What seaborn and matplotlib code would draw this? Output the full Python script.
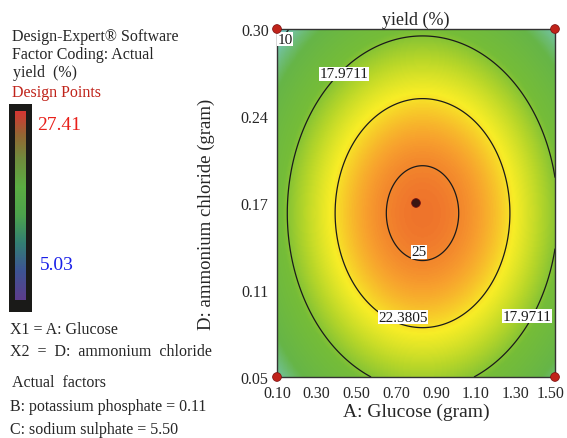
import numpy as np
import matplotlib
matplotlib.use("Agg")
import matplotlib.pyplot as plt
from matplotlib.colors import LinearSegmentedColormap, Normalize
from matplotlib.transforms import ScaledTranslation
import seaborn as sns
import pandas as pd

# factor ranges (actual units)
glucose_range = [0.10, 1.50]
ammonium_range = [0.05, 0.30]
x_ticks = [0.10, 0.30, 0.50, 0.70, 0.90, 1.10, 1.30, 1.50]
y_ticks = [0.05, 0.1125, 0.175, 0.2375, 0.30]
y_tick_labels = ["0.05", "0.11", "0.17", "0.24", "0.30"]

# fitted quadratic model in coded units
b0 = 25.50
b_A = 0.75
b_D = -0.85
b_AA = -8.0
b_DD = -7.3

contour_levels = [10, 17.9711, 22.3805, 25]
level_text = ["10", "17.9711", "22.3805", "25"]
y_min, y_max = 5.03, 27.41

# design points
design_A = [0.10, 1.50, 0.10, 1.50, 0.80]
design_D = [0.05, 0.05, 0.30, 0.30, 0.175]
design_kind = ["corner", "corner", "corner", "corner", "center"]

sns.set_style("white")
plt.rcParams["font.family"] = ["Liberation Serif", "DejaVu Serif"]

fig = plt.figure(figsize=(5.67, 4.39), dpi=100)
W, H = 567, 439


def fx(px):
    return px / W


def fy(py):
    return 1 - py / H


ax = fig.add_axes([fx(277), fy(378), fx(555) - fx(277), fy(30) - fy(378)])

# response surface
gx = np.linspace(glucose_range[0], glucose_range[1], 300)
gy = np.linspace(ammonium_range[0], ammonium_range[1], 300)
XX, YY = np.meshgrid(gx, gy)
U = (XX - 0.80) / 0.70
V = (YY - 0.175) / 0.125
Z = b0 + b_A * U + b_D * V + b_AA * U ** 2 + b_DD * V ** 2

surf_cmap = LinearSegmentedColormap.from_list("de", [
    (0.00, (0.30, 0.55, 0.90)),
    (0.14, (0.50, 0.78, 0.90)),
    (0.24, (0.45, 0.76, 0.62)),
    (0.36, (0.40, 0.71, 0.28)),
    (0.55, (0.46, 0.74, 0.22)),
    (0.66, (0.72, 0.84, 0.16)),
    (0.76, (0.97, 0.93, 0.15)),
    (0.86, (0.97, 0.62, 0.18)),
    (0.93, (0.93, 0.42, 0.17)),
    (1.00, (0.85, 0.20, 0.12)),
])
ax.imshow(Z, origin="lower", aspect="auto", cmap=surf_cmap,
          norm=Normalize(y_min, y_max),
          extent=[glucose_range[0], glucose_range[1], ammonium_range[0], ammonium_range[1]])
cs = ax.contour(XX, YY, Z, levels=contour_levels, colors="#1a1a1a", linewidths=0.9)

# label spots, in the order the contour labels are requested
label_pos = [(0.140, 0.2928), (0.437, 0.2677), (1.359, 0.0938), (0.7345, 0.0931), (0.815, 0.1398)]
labels = ax.clabel(cs, inline=False, fontsize=11, manual=label_pos,
                   fmt=dict(zip(contour_levels, level_text)))
for t, p in zip(labels, label_pos):
    t.set_rotation(0)
    t.set_position(p)
    t.set_bbox(dict(facecolor="white", edgecolor="none", pad=0.3))

pts = pd.DataFrame({"A": design_A, "D": design_D, "kind": design_kind})
sns.scatterplot(data=pts, x="A", y="D", hue="kind",
                palette={"corner": "#c0231a", "center": "#3a1612"},
                edgecolor="#7a1010", s=40, legend=False, clip_on=False, zorder=5, ax=ax)

ax.set_xlim(glucose_range)
ax.set_ylim(ammonium_range)
ax.set_xticks(x_ticks)
ax.set_xticklabels([f"{v:.2f}" for v in x_ticks])
ax.set_yticks(y_ticks)
ax.set_yticklabels(y_tick_labels)
ax.tick_params(axis="both", labelsize=11.5, length=4, direction="out", color="#555555", pad=2)
ax.tick_params(axis="y", color="#a07060")
# keep the last x label inside the canvas
last = ax.get_xticklabels()[-1]
last.set_transform(last.get_transform() + ScaledTranslation(-4 / 100, 0, fig.dpi_scale_trans))
for s in ax.spines.values():
    s.set_color("#333333")
    s.set_linewidth(1.0)
ax.set_xlabel("A: Glucose (gram)", fontsize=14, labelpad=1)
ax.set_ylabel("D: ammonium chloride (gram)", fontsize=13.5)
ax.yaxis.set_label_coords(-0.223, 0.47)
ax.set_title("yield (%)", fontsize=13, pad=4)

# left info panel
fs = 11.5
fig.text(fx(12), fy(37), "Design-Expert® Software", fontsize=fs, va="center")
fig.text(fx(12), fy(55), "Factor Coding: Actual", fontsize=fs, va="center")
fig.text(fx(13), fy(73), "yield  (%)", fontsize=fs, va="center")
fig.text(fx(12), fy(93), "Design Points", fontsize=fs, va="center", color="#c0231a")

cb_bg = fig.add_axes([fx(9), fy(313), fx(32) - fx(9), fy(105) - fy(313)])
cb_bg.set_facecolor("#1a1a18")
cb_bg.set_xticks([])
cb_bg.set_yticks([])
for s in cb_bg.spines.values():
    s.set_visible(False)
cb = fig.add_axes([fx(15), fy(301), fx(26) - fx(15), fy(112) - fy(301)])
bar_cmap = LinearSegmentedColormap.from_list("bar", [
    (0.00, (0.36, 0.24, 0.55)),
    (0.15, (0.24, 0.33, 0.58)),
    (0.30, (0.20, 0.50, 0.45)),
    (0.45, (0.30, 0.64, 0.30)),
    (0.60, (0.36, 0.68, 0.26)),
    (0.75, (0.44, 0.55, 0.24)),
    (0.88, (0.58, 0.40, 0.20)),
    (1.00, (0.83, 0.22, 0.20)),
])
cb.imshow(np.linspace(0, 1, 100).reshape(-1, 1), origin="lower", aspect="auto", cmap=bar_cmap)
cb.set_xticks([])
cb.set_yticks([])
for s in cb.spines.values():
    s.set_visible(False)
fig.text(fx(37), fy(125), f"{y_max:.2f}", fontsize=14, va="center", color="#e8201a")
fig.text(fx(40), fy(266), f"{y_min:.2f}", fontsize=14, va="center", color="#1a20e8")

fig.text(fx(10), fy(330), "X1 = A: Glucose", fontsize=fs, va="center")
fig.text(fx(10), fy(352), "X2  =  D:  ammonium  chloride", fontsize=fs, va="center")
fig.text(fx(12), fy(383), "Actual  factors", fontsize=fs, va="center")
fig.text(fx(10), fy(407), "B: potassium phosphate = 0.11", fontsize=fs, va="center")
fig.text(fx(10), fy(430), "C: sodium sulphate = 5.50", fontsize=fs, va="center")

fig.savefig("out.png", dpi=100)
